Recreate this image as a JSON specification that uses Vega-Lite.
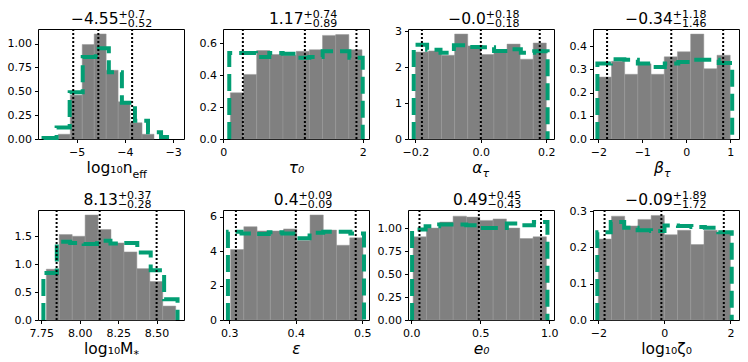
{
  "$schema": "https://vega.github.io/schema/vega-lite/v6.json",
  "padding": {"left": 6, "top": 7, "right": 0, "bottom": 0},
  "columns": 4,
  "bounds": "flush",
  "spacing": {"row": 71, "column": 39},
  "config": {
    "view": {"stroke": "black", "strokeWidth": 1},
    "axis": {"grid": false, "domain": false, "tickColor": "black", "tickSize": 3.5, "tickWidth": 1, "labelColor": "black", "labelFont": "DejaVu Sans", "labelFontSize": 11, "labelPadding": 3, "labelFlush": false, "labelOverlap": false, "labelBound": false, "titleFont": "DejaVu Sans", "titleColor": "black", "titleFontWeight": "normal", "titleFontSize": 15.5, "titleBaseline": "alphabetic"},
    "axisX": {"labelPadding": 3.5}
  },
  "datasets": {
    "h1": [{"lo": -5.38, "hi": -5.132, "d": 0.05}, {"lo": -5.132, "hi": -4.884, "d": 0.46}, {"lo": -4.884, "hi": -4.636, "d": 0.99}, {"lo": -4.636, "hi": -4.388, "d": 1.10}, {"lo": -4.388, "hi": -4.14, "d": 0.72}, {"lo": -4.14, "hi": -3.892, "d": 0.39}, {"lo": -3.892, "hi": -3.644, "d": 0.17}, {"lo": -3.644, "hi": -3.396, "d": 0.05}],
    "s1": [{"x": -5.685, "d": 0}, {"x": -5.685, "d": 0.01}, {"x": -5.4145, "d": 0.12}, {"x": -5.144, "d": 0.49}, {"x": -4.8735, "d": 0.86}, {"x": -4.603, "d": 0.95}, {"x": -4.3325, "d": 0.70}, {"x": -4.062, "d": 0.38}, {"x": -3.7915, "d": 0.19}, {"x": -3.521, "d": 0.07}, {"x": -3.2505, "d": 0.02}, {"x": -2.98, "d": 0.02}, {"x": -2.98, "d": 0}],
    "q1": [{"q": -5.07}, {"q": -4.55}, {"q": -3.85}],
    "h2": [{"lo": 0.1, "hi": 0.289, "d": 0.29}, {"lo": 0.289, "hi": 0.478, "d": 0.405}, {"lo": 0.478, "hi": 0.667, "d": 0.555}, {"lo": 0.667, "hi": 0.856, "d": 0.53}, {"lo": 0.856, "hi": 1.045, "d": 0.525}, {"lo": 1.045, "hi": 1.234, "d": 0.55}, {"lo": 1.234, "hi": 1.423, "d": 0.56}, {"lo": 1.423, "hi": 1.612, "d": 0.65}, {"lo": 1.612, "hi": 1.801, "d": 0.655}, {"lo": 1.801, "hi": 1.99, "d": 0.56}],
    "s2": [{"x": 0.085, "d": 0}, {"x": 0.085, "d": 0.54}, {"x": 0.2765, "d": 0.54}, {"x": 0.468, "d": 0.515}, {"x": 0.6595, "d": 0.54}, {"x": 0.851, "d": 0.535}, {"x": 1.0425, "d": 0.51}, {"x": 1.234, "d": 0.515}, {"x": 1.4255, "d": 0.55}, {"x": 1.617, "d": 0.55}, {"x": 1.8085, "d": 0.51}, {"x": 2.0, "d": 0.51}, {"x": 2.0, "d": 0}],
    "q2": [{"q": 0.28}, {"q": 1.17}, {"q": 1.91}],
    "h3": [{"lo": -0.2, "hi": -0.16, "d": 2.42}, {"lo": -0.16, "hi": -0.12, "d": 2.45}, {"lo": -0.12, "hi": -0.08, "d": 2.33}, {"lo": -0.08, "hi": -0.04, "d": 2.92}, {"lo": -0.04, "hi": 0, "d": 2.59}, {"lo": 0, "hi": 0.04, "d": 2.35}, {"lo": 0.04, "hi": 0.08, "d": 2.47}, {"lo": 0.08, "hi": 0.12, "d": 2.64}, {"lo": 0.12, "hi": 0.16, "d": 2.22}, {"lo": 0.16, "hi": 0.2, "d": 2.67}],
    "s3": [{"x": -0.205, "d": 0}, {"x": -0.205, "d": 2.62}, {"x": -0.1641, "d": 2.48}, {"x": -0.1232, "d": 2.40}, {"x": -0.0823, "d": 2.61}, {"x": -0.0414, "d": 2.56}, {"x": -0.0005, "d": 2.55}, {"x": 0.0404, "d": 2.45}, {"x": 0.0813, "d": 2.50}, {"x": 0.1222, "d": 2.40}, {"x": 0.1631, "d": 2.44}, {"x": 0.204, "d": 2.44}, {"x": 0.204, "d": 0}],
    "q3": [{"q": -0.18}, {"q": 0.0}, {"q": 0.18}],
    "h4": [{"lo": -2, "hi": -1.7, "d": 0.267}, {"lo": -1.7, "hi": -1.4, "d": 0.335}, {"lo": -1.4, "hi": -1.1, "d": 0.279}, {"lo": -1.1, "hi": -0.8, "d": 0.324}, {"lo": -0.8, "hi": -0.5, "d": 0.279}, {"lo": -0.5, "hi": -0.2, "d": 0.354}, {"lo": -0.2, "hi": 0.1, "d": 0.376}, {"lo": 0.1, "hi": 0.4, "d": 0.452}, {"lo": 0.4, "hi": 0.7, "d": 0.303}, {"lo": 0.7, "hi": 1.0, "d": 0.361}],
    "s4": [{"x": -2.02, "d": 0}, {"x": -2.02, "d": 0.325}, {"x": -1.7135, "d": 0.344}, {"x": -1.407, "d": 0.342}, {"x": -1.1005, "d": 0.325}, {"x": -0.794, "d": 0.31}, {"x": -0.4875, "d": 0.325}, {"x": -0.181, "d": 0.332}, {"x": 0.1255, "d": 0.342}, {"x": 0.432, "d": 0.342}, {"x": 0.7385, "d": 0.328}, {"x": 1.045, "d": 0.328}, {"x": 1.045, "d": 0}],
    "q4": [{"q": -1.80}, {"q": -0.34}, {"q": 0.84}],
    "h5": [{"lo": 7.783, "hi": 7.8671, "d": 0.91}, {"lo": 7.8671, "hi": 7.9512, "d": 1.53}, {"lo": 7.9512, "hi": 8.0353, "d": 1.50}, {"lo": 8.0353, "hi": 8.1194, "d": 1.88}, {"lo": 8.1194, "hi": 8.2035, "d": 1.62}, {"lo": 8.2035, "hi": 8.2876, "d": 1.38}, {"lo": 8.2876, "hi": 8.3717, "d": 1.22}, {"lo": 8.3717, "hi": 8.4558, "d": 0.92}, {"lo": 8.4558, "hi": 8.5399, "d": 0.69}, {"lo": 8.5399, "hi": 8.624, "d": 0.25}],
    "s5": [{"x": 7.764, "d": 0}, {"x": 7.764, "d": 0.84}, {"x": 7.8512, "d": 1.40}, {"x": 7.9384, "d": 1.38}, {"x": 8.0256, "d": 1.36}, {"x": 8.1128, "d": 1.42}, {"x": 8.2, "d": 1.37}, {"x": 8.2872, "d": 1.38}, {"x": 8.3744, "d": 1.21}, {"x": 8.4616, "d": 0.89}, {"x": 8.5488, "d": 0.37}, {"x": 8.636, "d": 0.37}, {"x": 8.636, "d": 0}],
    "q5": [{"q": 7.85}, {"q": 8.13}, {"q": 8.50}],
    "h6": [{"lo": 0.302, "hi": 0.3219, "d": 4.1}, {"lo": 0.3219, "hi": 0.3418, "d": 5.43}, {"lo": 0.3418, "hi": 0.3617, "d": 5.18}, {"lo": 0.3617, "hi": 0.3816, "d": 5.18}, {"lo": 0.3816, "hi": 0.4015, "d": 5.30}, {"lo": 0.4015, "hi": 0.4214, "d": 4.63}, {"lo": 0.4214, "hi": 0.4413, "d": 6.11}, {"lo": 0.4413, "hi": 0.4612, "d": 5.23}, {"lo": 0.4612, "hi": 0.4811, "d": 4.35}, {"lo": 0.4811, "hi": 0.501, "d": 4.78}],
    "s6": [{"x": 0.298, "d": 0}, {"x": 0.298, "d": 5.14}, {"x": 0.31845, "d": 5.04}, {"x": 0.3389, "d": 5.0}, {"x": 0.35935, "d": 5.1}, {"x": 0.3798, "d": 5.04}, {"x": 0.40025, "d": 4.75}, {"x": 0.4207, "d": 5.08}, {"x": 0.44115, "d": 5.14}, {"x": 0.4616, "d": 5.14}, {"x": 0.48205, "d": 5.04}, {"x": 0.5025, "d": 5.04}, {"x": 0.5025, "d": 0}],
    "q6": [{"q": 0.31}, {"q": 0.40}, {"q": 0.49}],
    "h7": [{"lo": 0.014, "hi": 0.1105, "d": 0.905}, {"lo": 0.1105, "hi": 0.207, "d": 1.0}, {"lo": 0.207, "hi": 0.3035, "d": 1.066}, {"lo": 0.3035, "hi": 0.4, "d": 1.13}, {"lo": 0.4, "hi": 0.4965, "d": 1.12}, {"lo": 0.4965, "hi": 0.593, "d": 1.084}, {"lo": 0.593, "hi": 0.6895, "d": 1.10}, {"lo": 0.6895, "hi": 0.786, "d": 1.0}, {"lo": 0.786, "hi": 0.8825, "d": 0.887}, {"lo": 0.8825, "hi": 0.979, "d": 0.905}],
    "s7": [{"x": 0.0065, "d": 0}, {"x": 0.0065, "d": 0.985}, {"x": 0.1045, "d": 1.02}, {"x": 0.2025, "d": 1.04}, {"x": 0.3005, "d": 1.04}, {"x": 0.3985, "d": 1.03}, {"x": 0.4965, "d": 1.0}, {"x": 0.5945, "d": 1.0}, {"x": 0.6925, "d": 1.05}, {"x": 0.7905, "d": 1.03}, {"x": 0.8885, "d": 1.066}, {"x": 0.9865, "d": 1.066}, {"x": 0.9865, "d": 0}],
    "q7": [{"q": 0.06}, {"q": 0.49}, {"q": 0.94}],
    "h8": [{"lo": -2, "hi": -1.6, "d": 0.223}, {"lo": -1.6, "hi": -1.2, "d": 0.286}, {"lo": -1.2, "hi": -0.8, "d": 0.259}, {"lo": -0.8, "hi": -0.4, "d": 0.277}, {"lo": -0.4, "hi": 0, "d": 0.288}, {"lo": 0, "hi": 0.4, "d": 0.235}, {"lo": 0.4, "hi": 0.8, "d": 0.247}, {"lo": 0.8, "hi": 1.2, "d": 0.208}, {"lo": 1.2, "hi": 1.6, "d": 0.247}, {"lo": 1.6, "hi": 2.0, "d": 0.242}],
    "s8": [{"x": -2.03, "d": 0}, {"x": -2.03, "d": 0.242}, {"x": -1.623, "d": 0.27}, {"x": -1.216, "d": 0.254}, {"x": -0.809, "d": 0.247}, {"x": -0.402, "d": 0.245}, {"x": 0.005, "d": 0.26}, {"x": 0.412, "d": 0.259}, {"x": 0.819, "d": 0.256}, {"x": 1.226, "d": 0.254}, {"x": 1.633, "d": 0.242}, {"x": 2.04, "d": 0.242}, {"x": 2.04, "d": 0}],
    "q8": [{"q": -1.81}, {"q": -0.09}, {"q": 1.80}]
  },
  "concat": [
    {
      "width": 146, "height": 110,
      "resolve": {"axis": {"x": "independent", "y": "independent"}},
      "layer": [
        {"data": {"name": "h1"}, "mark": {"type": "rect", "fill": "#808080", "stroke": "#999999", "strokeWidth": 0.5},
          "encoding": {
            "x": {"field": "lo", "type": "quantitative", "scale": {"domain": [-5.8, -2.775], "nice": false, "zero": false}, "axis": {"values": [-5, -4, -3], "format": "d", "title": "log₁₀n", "titleAlign": "right", "titleX": 94, "titleY": 33}},
            "x2": {"field": "hi"},
            "y": {"field": "d", "type": "quantitative", "scale": {"domain": [0, 1.152], "nice": false}, "axis": {"values": [0, 0.25, 0.5, 0.75, 1], "format": ".2f", "title": "−4.55", "titleAngle": 0, "titleAlign": "right", "titleX": 80, "titleY": -5.5}},
            "y2": {"datum": 0}}},
        {"data": {"name": "s1"}, "mark": {"type": "line", "interpolate": "step-after", "stroke": "#029E73", "strokeWidth": 4, "strokeDash": [17, 7]},
          "encoding": {
            "x": {"field": "x", "type": "quantitative", "scale": {"domain": [-5.8, -2.775], "nice": false, "zero": false}, "axis": {"orient": "top", "labels": false, "ticks": false, "domain": false, "title": "eff", "titleFontSize": 11, "titleAlign": "left", "titleX": 94, "titleY": 148}},
            "y": {"field": "d", "type": "quantitative", "scale": {"domain": [0, 1.152], "nice": false}, "axis": {"orient": "right", "labels": false, "ticks": false, "domain": false, "title": ["+0.7", "−0.52"], "titleFontSize": 11, "titleLineHeight": 9.3, "titleAngle": 0, "titleAlign": "left", "titleX": -66, "titleY": -11.6}},
            "order": {"value": null}}},
        {"data": {"name": "q1"}, "mark": {"type": "rule", "stroke": "black", "strokeWidth": 2, "strokeDash": [2, 2]},
          "encoding": {"x": {"field": "q", "type": "quantitative", "scale": {"domain": [-5.8, -2.775], "nice": false, "zero": false}, "axis": null}}}
      ]
    },
    {
      "width": 146, "height": 110,
      "resolve": {"axis": {"x": "independent", "y": "independent"}},
      "layer": [
        {"data": {"name": "h2"}, "mark": {"type": "rect", "fill": "#808080", "stroke": "#999999", "strokeWidth": 0.5},
          "encoding": {
            "x": {"field": "lo", "type": "quantitative", "scale": {"domain": [-0.005, 2.09], "nice": false, "zero": false}, "axis": {"values": [0, 1, 2], "format": "d", "title": "τ₀", "titleFontStyle": "italic", "titleAlign": "center", "titleX": 73, "titleY": 33}},
            "x2": {"field": "hi"},
            "y": {"field": "d", "type": "quantitative", "scale": {"domain": [0, 0.69], "nice": false}, "axis": {"values": [0, 0.2, 0.4, 0.6], "format": ".1f", "title": "1.17", "titleAngle": 0, "titleAlign": "right", "titleX": 80, "titleY": -5.5}},
            "y2": {"datum": 0}}},
        {"data": {"name": "s2"}, "mark": {"type": "line", "interpolate": "step-after", "stroke": "#029E73", "strokeWidth": 4, "strokeDash": [17, 7]},
          "encoding": {
            "x": {"field": "x", "type": "quantitative", "scale": {"domain": [-0.005, 2.09], "nice": false, "zero": false}, "axis": null},
            "y": {"field": "d", "type": "quantitative", "scale": {"domain": [0, 0.69], "nice": false}, "axis": {"orient": "right", "labels": false, "ticks": false, "domain": false, "title": ["+0.74", "−0.89"], "titleFontSize": 11, "titleLineHeight": 9.3, "titleAngle": 0, "titleAlign": "left", "titleX": -66, "titleY": -11.6}},
            "order": {"value": null}}},
        {"data": {"name": "q2"}, "mark": {"type": "rule", "stroke": "black", "strokeWidth": 2, "strokeDash": [2, 2]},
          "encoding": {"x": {"field": "q", "type": "quantitative", "scale": {"domain": [-0.005, 2.09], "nice": false, "zero": false}, "axis": null}}}
      ]
    },
    {
      "width": 146, "height": 110,
      "resolve": {"axis": {"x": "independent", "y": "independent"}},
      "layer": [
        {"data": {"name": "h3"}, "mark": {"type": "rect", "fill": "#808080", "stroke": "#999999", "strokeWidth": 0.5},
          "encoding": {
            "x": {"field": "lo", "type": "quantitative", "scale": {"domain": [-0.2225, 0.2235], "nice": false, "zero": false}, "axis": {"values": [-0.2, 0, 0.2], "format": ".1f", "title": "α", "titleFontStyle": "italic", "titleAlign": "right", "titleX": 74, "titleY": 33}},
            "x2": {"field": "hi"},
            "y": {"field": "d", "type": "quantitative", "scale": {"domain": [0, 3.06], "nice": false}, "axis": {"values": [0, 1, 2, 3], "format": "d", "title": "−0.0", "titleAngle": 0, "titleAlign": "right", "titleX": 77.3, "titleY": -5.5}},
            "y2": {"datum": 0}}},
        {"data": {"name": "s3"}, "mark": {"type": "line", "interpolate": "step-after", "stroke": "#029E73", "strokeWidth": 4, "strokeDash": [17, 7]},
          "encoding": {
            "x": {"field": "x", "type": "quantitative", "scale": {"domain": [-0.2225, 0.2235], "nice": false, "zero": false}, "axis": {"orient": "top", "labels": false, "ticks": false, "domain": false, "title": "τ", "titleFontStyle": "italic", "titleFontSize": 11, "titleAlign": "left", "titleX": 74, "titleY": 147}},
            "y": {"field": "d", "type": "quantitative", "scale": {"domain": [0, 3.06], "nice": false}, "axis": {"orient": "right", "labels": false, "ticks": false, "domain": false, "title": ["+0.18", "−0.18"], "titleFontSize": 11, "titleLineHeight": 9.3, "titleAngle": 0, "titleAlign": "left", "titleX": -68.7, "titleY": -11.6}},
            "order": {"value": null}}},
        {"data": {"name": "q3"}, "mark": {"type": "rule", "stroke": "black", "strokeWidth": 2, "strokeDash": [2, 2]},
          "encoding": {"x": {"field": "q", "type": "quantitative", "scale": {"domain": [-0.2225, 0.2235], "nice": false, "zero": false}, "axis": null}}}
      ]
    },
    {
      "width": 146, "height": 110,
      "resolve": {"axis": {"x": "independent", "y": "independent"}},
      "layer": [
        {"data": {"name": "h4"}, "mark": {"type": "rect", "fill": "#808080", "stroke": "#999999", "strokeWidth": 0.5},
          "encoding": {
            "x": {"field": "lo", "type": "quantitative", "scale": {"domain": [-2.12, 1.2], "nice": false, "zero": false}, "axis": {"values": [-2, -1, 0, 1], "format": "d", "title": "β", "titleFontStyle": "italic", "titleAlign": "right", "titleX": 70.5, "titleY": 33}},
            "x2": {"field": "hi"},
            "y": {"field": "d", "type": "quantitative", "scale": {"domain": [0, 0.474], "nice": false}, "axis": {"values": [0, 0.1, 0.2, 0.3, 0.4], "format": ".1f", "title": "−0.34", "titleAngle": 0, "titleAlign": "right", "titleX": 79.3, "titleY": -5.5}},
            "y2": {"datum": 0}}},
        {"data": {"name": "s4"}, "mark": {"type": "line", "interpolate": "step-after", "stroke": "#029E73", "strokeWidth": 4, "strokeDash": [17, 7]},
          "encoding": {
            "x": {"field": "x", "type": "quantitative", "scale": {"domain": [-2.12, 1.2], "nice": false, "zero": false}, "axis": {"orient": "top", "labels": false, "ticks": false, "domain": false, "title": "τ", "titleFontStyle": "italic", "titleFontSize": 11, "titleAlign": "left", "titleX": 70.5, "titleY": 147}},
            "y": {"field": "d", "type": "quantitative", "scale": {"domain": [0, 0.474], "nice": false}, "axis": {"orient": "right", "labels": false, "ticks": false, "domain": false, "title": ["+1.18", "−1.46"], "titleFontSize": 11, "titleLineHeight": 9.3, "titleAngle": 0, "titleAlign": "left", "titleX": -66.7, "titleY": -11.6}},
            "order": {"value": null}}},
        {"data": {"name": "q4"}, "mark": {"type": "rule", "stroke": "black", "strokeWidth": 2, "strokeDash": [2, 2]},
          "encoding": {"x": {"field": "q", "type": "quantitative", "scale": {"domain": [-2.12, 1.2], "nice": false, "zero": false}, "axis": null}}}
      ]
    },
    {
      "width": 146, "height": 110,
      "resolve": {"axis": {"x": "independent", "y": "independent"}},
      "layer": [
        {"data": {"name": "h5"}, "mark": {"type": "rect", "fill": "#808080", "stroke": "#999999", "strokeWidth": 0.5},
          "encoding": {
            "x": {"field": "lo", "type": "quantitative", "scale": {"domain": [7.729, 8.678], "nice": false, "zero": false}, "axis": {"values": [7.75, 8, 8.25, 8.5], "format": ".2f", "title": "log₁₀M", "titleAlign": "right", "titleX": 95, "titleY": 33}},
            "x2": {"field": "hi"},
            "y": {"field": "d", "type": "quantitative", "scale": {"domain": [0, 1.97], "nice": false}, "axis": {"values": [0, 0.5, 1, 1.5], "format": ".1f", "title": "8.13", "titleAngle": 0, "titleAlign": "right", "titleX": 79.4, "titleY": -5.5}},
            "y2": {"datum": 0}}},
        {"data": {"name": "s5"}, "mark": {"type": "line", "interpolate": "step-after", "stroke": "#029E73", "strokeWidth": 4, "strokeDash": [17, 7]},
          "encoding": {
            "x": {"field": "x", "type": "quantitative", "scale": {"domain": [7.729, 8.678], "nice": false, "zero": false}, "axis": {"orient": "top", "labels": false, "ticks": false, "domain": false, "title": "*", "titleFontSize": 11, "titleAlign": "left", "titleX": 95, "titleY": 147}},
            "y": {"field": "d", "type": "quantitative", "scale": {"domain": [0, 1.97], "nice": false}, "axis": {"orient": "right", "labels": false, "ticks": false, "domain": false, "title": ["+0.37", "−0.28"], "titleFontSize": 11, "titleLineHeight": 9.3, "titleAngle": 0, "titleAlign": "left", "titleX": -66.6, "titleY": -11.6}},
            "order": {"value": null}}},
        {"data": {"name": "q5"}, "mark": {"type": "rule", "stroke": "black", "strokeWidth": 2, "strokeDash": [2, 2]},
          "encoding": {"x": {"field": "q", "type": "quantitative", "scale": {"domain": [7.729, 8.678], "nice": false, "zero": false}, "axis": null}}}
      ]
    },
    {
      "width": 146, "height": 110,
      "resolve": {"axis": {"x": "independent", "y": "independent"}},
      "layer": [
        {"data": {"name": "h6"}, "mark": {"type": "rect", "fill": "#808080", "stroke": "#999999", "strokeWidth": 0.5},
          "encoding": {
            "x": {"field": "lo", "type": "quantitative", "scale": {"domain": [0.2906, 0.51], "nice": false, "zero": false}, "axis": {"values": [0.3, 0.4, 0.5], "format": ".1f", "title": "ε", "titleFontStyle": "italic", "titleAlign": "center", "titleX": 73, "titleY": 33}},
            "x2": {"field": "hi"},
            "y": {"field": "d", "type": "quantitative", "scale": {"domain": [0, 6.4], "nice": false}, "axis": {"values": [0, 2, 4, 6], "format": "d", "title": "0.4", "titleAngle": 0, "titleAlign": "right", "titleX": 75, "titleY": -5.5}},
            "y2": {"datum": 0}}},
        {"data": {"name": "s6"}, "mark": {"type": "line", "interpolate": "step-after", "stroke": "#029E73", "strokeWidth": 4, "strokeDash": [17, 7]},
          "encoding": {
            "x": {"field": "x", "type": "quantitative", "scale": {"domain": [0.2906, 0.51], "nice": false, "zero": false}, "axis": null},
            "y": {"field": "d", "type": "quantitative", "scale": {"domain": [0, 6.4], "nice": false}, "axis": {"orient": "right", "labels": false, "ticks": false, "domain": false, "title": ["+0.09", "−0.09"], "titleFontSize": 11, "titleLineHeight": 9.3, "titleAngle": 0, "titleAlign": "left", "titleX": -71, "titleY": -11.6}},
            "order": {"value": null}}},
        {"data": {"name": "q6"}, "mark": {"type": "rule", "stroke": "black", "strokeWidth": 2, "strokeDash": [2, 2]},
          "encoding": {"x": {"field": "q", "type": "quantitative", "scale": {"domain": [0.2906, 0.51], "nice": false, "zero": false}, "axis": null}}}
      ]
    },
    {
      "width": 146, "height": 110,
      "resolve": {"axis": {"x": "independent", "y": "independent"}},
      "layer": [
        {"data": {"name": "h7"}, "mark": {"type": "rect", "fill": "#808080", "stroke": "#999999", "strokeWidth": 0.5},
          "encoding": {
            "x": {"field": "lo", "type": "quantitative", "scale": {"domain": [-0.023, 1.034], "nice": false, "zero": false}, "axis": {"values": [0, 0.5, 1], "format": ".1f", "title": "e₀", "titleFontStyle": "italic", "titleAlign": "center", "titleX": 73, "titleY": 33}},
            "x2": {"field": "hi"},
            "y": {"field": "d", "type": "quantitative", "scale": {"domain": [0, 1.197], "nice": false}, "axis": {"values": [0, 0.25, 0.5, 0.75, 1], "format": ".2f", "title": "0.49", "titleAngle": 0, "titleAlign": "right", "titleX": 79, "titleY": -5.5}},
            "y2": {"datum": 0}}},
        {"data": {"name": "s7"}, "mark": {"type": "line", "interpolate": "step-after", "stroke": "#029E73", "strokeWidth": 4, "strokeDash": [17, 7]},
          "encoding": {
            "x": {"field": "x", "type": "quantitative", "scale": {"domain": [-0.023, 1.034], "nice": false, "zero": false}, "axis": null},
            "y": {"field": "d", "type": "quantitative", "scale": {"domain": [0, 1.197], "nice": false}, "axis": {"orient": "right", "labels": false, "ticks": false, "domain": false, "title": ["+0.45", "−0.43"], "titleFontSize": 11, "titleLineHeight": 9.3, "titleAngle": 0, "titleAlign": "left", "titleX": -67, "titleY": -11.6}},
            "order": {"value": null}}},
        {"data": {"name": "q7"}, "mark": {"type": "rule", "stroke": "black", "strokeWidth": 2, "strokeDash": [2, 2]},
          "encoding": {"x": {"field": "q", "type": "quantitative", "scale": {"domain": [-0.023, 1.034], "nice": false, "zero": false}, "axis": null}}}
      ]
    },
    {
      "width": 146, "height": 110,
      "resolve": {"axis": {"x": "independent", "y": "independent"}},
      "layer": [
        {"data": {"name": "h8"}, "mark": {"type": "rect", "fill": "#808080", "stroke": "#999999", "strokeWidth": 0.5},
          "encoding": {
            "x": {"field": "lo", "type": "quantitative", "scale": {"domain": [-2.16, 2.26], "nice": false, "zero": false}, "axis": {"values": [-2, 0, 2], "format": "d", "title": "log₁₀ζ₀", "titleAlign": "center", "titleX": 73, "titleY": 33}},
            "x2": {"field": "hi"},
            "y": {"field": "d", "type": "quantitative", "scale": {"domain": [0, 0.303], "nice": false}, "axis": {"values": [0, 0.1, 0.2, 0.3], "format": ".1f", "title": "−0.09", "titleAngle": 0, "titleAlign": "right", "titleX": 79.3, "titleY": -5.5}},
            "y2": {"datum": 0}}},
        {"data": {"name": "s8"}, "mark": {"type": "line", "interpolate": "step-after", "stroke": "#029E73", "strokeWidth": 4, "strokeDash": [17, 7]},
          "encoding": {
            "x": {"field": "x", "type": "quantitative", "scale": {"domain": [-2.16, 2.26], "nice": false, "zero": false}, "axis": null},
            "y": {"field": "d", "type": "quantitative", "scale": {"domain": [0, 0.303], "nice": false}, "axis": {"orient": "right", "labels": false, "ticks": false, "domain": false, "title": ["+1.89", "−1.72"], "titleFontSize": 11, "titleLineHeight": 9.3, "titleAngle": 0, "titleAlign": "left", "titleX": -66.7, "titleY": -11.6}},
            "order": {"value": null}}},
        {"data": {"name": "q8"}, "mark": {"type": "rule", "stroke": "black", "strokeWidth": 2, "strokeDash": [2, 2]},
          "encoding": {"x": {"field": "q", "type": "quantitative", "scale": {"domain": [-2.16, 2.26], "nice": false, "zero": false}, "axis": null}}}
      ]
    }
  ]
}
